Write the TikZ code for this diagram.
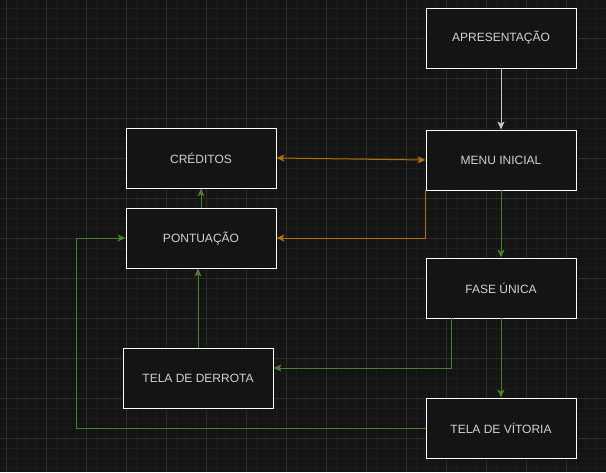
\documentclass[tikz,border=0pt]{standalone}
\usepackage{fontspec}
\setmainfont{Liberation Sans}
\usetikzlibrary{arrows.meta,calc}
\definecolor{bg}{HTML}{141414}
\definecolor{gridminor}{HTML}{1C1C1C}
\definecolor{gridmajor}{HTML}{2C2C2C}
\definecolor{txt}{HTML}{D2D2D2}
\definecolor{edgegreen}{HTML}{4E7F30}
\definecolor{edgeorange}{HTML}{B07000}
\definecolor{edgegrey}{HTML}{C8C8C8}
\tikzset{
  box/.style={draw=white, line width=0.9pt, fill=bg, minimum width=150pt, minimum height=60pt, inner sep=0pt, text=txt, font=\fontsize{12pt}{14pt}\selectfont},
  tip/.style={-{Stealth[length=8pt,width=7pt,inset=2pt]}},
  gline/.style={draw=edgegreen, line width=1pt, tip},
  oline/.style={draw=edgeorange, line width=1pt, tip},
}
\begin{document}
\begin{tikzpicture}[x=1pt,y=-1pt]
\fill[bg] (0,0) rectangle (606,472);
\useasboundingbox (0,0) rectangle (606,472);
% minor grid
\foreach \i in {0,...,60} {\draw[gridminor, line width=0.6pt] (6+10*\i,0) -- (6+10*\i,472);}
\foreach \j in {0,...,47} {\draw[gridminor, line width=0.6pt] (0,8+10*\j) -- (606,8+10*\j);}
% major grid
\foreach \i in {0,...,15} {\draw[gridmajor, line width=0.8pt] (6+40*\i,0) -- (6+40*\i,472);}
\foreach \j in {0,...,12} {\draw[gridmajor, line width=0.8pt] (0,38+40*\j) -- (606,38+40*\j);}

\node[box] (apr) at (501,38) {APRESENTAÇÃO};
\node[box] (menu) at (501,160) {MENU INICIAL};
\node[box] (cred) at (201,158) {CRÉDITOS};
\node[box] (pont) at (201,238) {PONTUAÇÃO};
\node[box] (derr) at (198,378) {TELA DE DERROTA};
\node[box] (fase) at (501,288) {FASE ÚNICA};
\node[box] (vit) at (501,428) {TELA DE VÍTORIA};

\coordinate (fasedrop) at ($(fase.south west)+(25.5,0)$);
\coordinate (derrin) at ($(derr.east)+(0,-10)$);
\coordinate (vitcorner) at (76,428);

\draw[draw=edgegrey, line width=1pt, tip] (apr.south) -- (menu.north);
\draw[oline, {Stealth[length=8pt,width=7pt,inset=2pt]}-{Stealth[length=8pt,width=7pt,inset=2pt]}] (cred.east) -- (menu.west);
\draw[oline] (menu.south west) |- (pont.east);
\draw[gline] (pont.north) -- (cred.south);
\draw[gline] (menu.south) -- (fase.north);
\draw[gline] (fase.south) -- (vit.north);
\draw[gline] (fasedrop) |- (derrin);
\draw[gline] (derr.north) -- (derr.north |- pont.south);
\draw[gline] (vit.west) -- (vitcorner) |- (pont.west);
\end{tikzpicture}
\end{document}
